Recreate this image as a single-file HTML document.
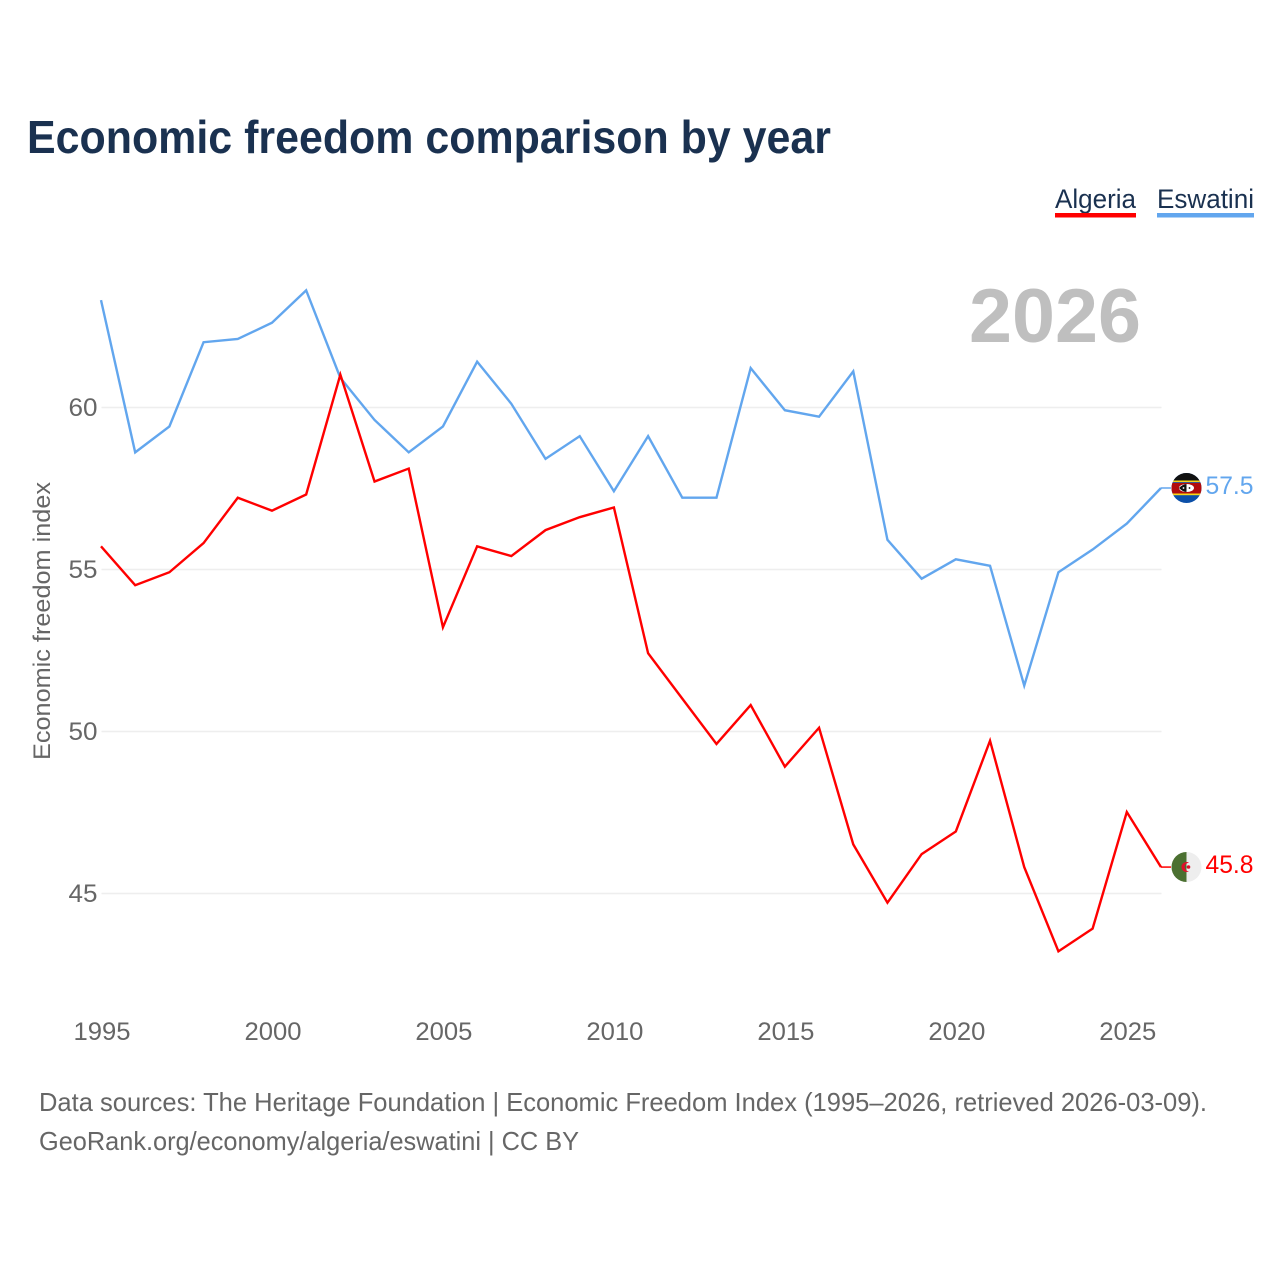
<!DOCTYPE html>
<html lang="en">
<head>
<meta charset="utf-8">
<title>Economic freedom comparison by year</title>
<style>
html,body{margin:0;padding:0;background:#fff;width:1280px;height:1280px;overflow:hidden}
svg{display:block}
text{font-family:"Liberation Sans",sans-serif}
</style>
</head>
<body>
<svg id="chart" xmlns="http://www.w3.org/2000/svg" width="1280" height="1280" viewBox="0 0 1280 1280">
  <rect x="0" y="0" width="1280" height="1280" fill="#ffffff"/>
  <text x="27" y="153" font-size="46" font-weight="700" fill="#1a3150" textLength="804" lengthAdjust="spacingAndGlyphs">Economic freedom comparison by year</text>

  <g>
    <text x="1055" y="208" font-size="27" fill="#1a3150" textLength="81" lengthAdjust="spacingAndGlyphs">Algeria</text>
    <rect x="1055" y="213" width="81" height="4.5" fill="#ff0000"/>
  </g>
  <g>
    <text x="1157" y="208" font-size="27" fill="#1a3150" textLength="97" lengthAdjust="spacingAndGlyphs">Eswatini</text>
    <rect x="1157" y="213" width="97" height="4.5" fill="#62a6ee"/>
  </g>

  <text x="1141" y="342" font-size="76" font-weight="700" fill="#bfbfbf" text-anchor="end" textLength="172" lengthAdjust="spacingAndGlyphs">2026</text>

  <g id="grid"></g>
  <g id="y-ticks"></g>
  <g id="x-ticks"></g>

  <text transform="translate(50,621) rotate(-90)" font-size="24.5" fill="#666666" text-anchor="middle" textLength="278" lengthAdjust="spacingAndGlyphs">Economic freedom index</text>

  <g id="series" transform="translate(-0.5,-0.5)"></g>

  <defs>
    <clipPath id="flag-clip-sz"><circle cx="1186.5" cy="488" r="15"/></clipPath>
    <clipPath id="flag-clip-dz"><circle cx="1186.5" cy="867" r="15"/></clipPath>
  </defs>
  <g clip-path="url(#flag-clip-sz)">
    <rect x="1171" y="473" width="31" height="30" fill="#0b4fa8"/>
    <rect x="1171" y="473" width="31" height="7.5" fill="#111111"/>
    <rect x="1171" y="480.5" width="31" height="1.7" fill="#f7d618"/>
    <rect x="1171" y="482.2" width="31" height="0.8" fill="#2a4fa0"/>
    <rect x="1171" y="483" width="31" height="10.5" fill="#b10c0c"/>
    <rect x="1171" y="493.5" width="31" height="1.7" fill="#f7d618"/>
    <ellipse cx="1186.5" cy="488" rx="7.5" ry="4" fill="#ffffff"/>
    <path d="M1179 488 Q1183 484 1186.5 484 L1186.5 492 Q1183 492 1179 488Z" fill="#111111"/>
    <circle cx="1183.5" cy="488" r="0.9" fill="#ffffff"/>
    <circle cx="1189.5" cy="488" r="0.9" fill="#111111"/>
  </g>
  <g clip-path="url(#flag-clip-dz)">
    <rect x="1171" y="852" width="15.5" height="30" fill="#4b7031"/>
    <rect x="1186.5" y="852" width="15.5" height="30" fill="#eeeeee"/>
    <path d="M1189 862.7 A5 5 0 1 0 1189 871.3 A4 4 0 1 1 1189 862.7Z" fill="#e0102a"/>
    <circle cx="1188.5" cy="867" r="1.8" fill="#e0102a"/>
  </g>
  <text id="label-eswatini" x="1205.5" y="494" font-size="25" fill="#62a6ee" textLength="48" lengthAdjust="spacingAndGlyphs"></text>
  <text id="label-algeria" x="1205.5" y="873" font-size="25" fill="#ff0000" textLength="48" lengthAdjust="spacingAndGlyphs"></text>

  <text x="39" y="1111" font-size="26" fill="#666666" textLength="1168" lengthAdjust="spacingAndGlyphs">Data sources: The Heritage Foundation | Economic Freedom Index (1995–2026, retrieved 2026-03-09).</text>
  <text x="39" y="1150" font-size="26" fill="#666666" textLength="540" lengthAdjust="spacingAndGlyphs">GeoRank.org/economy/algeria/eswatini | CC BY</text>
</svg>
<script>
const years = [1995,1996,1997,1998,1999,2000,2001,2002,2003,2004,2005,2006,2007,2008,2009,2010,2011,2012,2013,2014,2015,2016,2017,2018,2019,2020,2021,2022,2023,2024,2025,2026];
const algeria = [55.7,54.5,54.9,55.8,57.2,56.8,57.3,61.0,57.7,58.1,53.2,55.7,55.4,56.2,56.6,56.9,52.4,51.0,49.6,50.8,48.9,50.1,46.5,44.7,46.2,46.9,49.7,45.8,43.2,43.9,47.5,45.8];
const eswatini = [63.3,58.6,59.4,62.0,62.1,62.6,63.6,60.9,59.6,58.6,59.4,61.4,60.1,58.4,59.1,57.4,59.1,57.2,57.2,61.2,59.9,59.7,61.1,55.9,54.7,55.3,55.1,51.4,54.9,55.6,56.4,57.5];
const yTicks = [45,50,55,60];
const xTicks = [1995,2000,2005,2010,2015,2020,2025];

const SVGNS = 'http://www.w3.org/2000/svg';
function xScale(year){ return 101.5 + (year - 1995) * (1060 / 31); }
function yScale(v){ return 407.5 + (60 - v) * 32.4; }

const grid = document.getElementById('grid');
const yTickGroup = document.getElementById('y-ticks');
const xTickGroup = document.getElementById('x-ticks');
const seriesGroup = document.getElementById('series');

yTicks.forEach(function(t){
  const line = document.createElementNS(SVGNS,'line');
  
  
  line.setAttribute('x1', xScale(1995));
  line.setAttribute('x2', xScale(2026));
  line.setAttribute('y1', yScale(t));
  line.setAttribute('y2', yScale(t));
  line.setAttribute('stroke', '#eeeeee');
  line.setAttribute('stroke-width', '1.5');
  grid.appendChild(line);

  const label = document.createElementNS(SVGNS,'text');
  
  
  label.setAttribute('x', 97.5);
  label.setAttribute('y', yScale(t) + 8.5);
  label.setAttribute('text-anchor', 'end');
  label.setAttribute('font-size', '25');
  label.setAttribute('fill', '#666666');
  label.setAttribute('textLength', '29');
  label.setAttribute('lengthAdjust', 'spacingAndGlyphs');
  label.textContent = t;
  yTickGroup.appendChild(label);
});

xTicks.forEach(function(t){
  const label = document.createElementNS(SVGNS,'text');
  
  
  label.setAttribute('x', xScale(t) + 0.5);
  label.setAttribute('y', 1040);
  label.setAttribute('text-anchor', 'middle');
  label.setAttribute('font-size', '25');
  label.setAttribute('fill', '#666666');
  label.setAttribute('textLength', '57');
  label.setAttribute('lengthAdjust', 'spacingAndGlyphs');
  label.textContent = t;
  xTickGroup.appendChild(label);
});

function pathFor(values){
  return values.map(function(v,i){
    return (i ? 'L' : 'M') + xScale(years[i]).toFixed(2) + ' ' + yScale(v).toFixed(2);
  }).join(' ');
}

const eswatiniLine = document.createElementNS(SVGNS,'path');


eswatiniLine.setAttribute('d', pathFor(eswatini));
eswatiniLine.setAttribute('fill', 'none');
eswatiniLine.setAttribute('stroke', '#62a6ee');
eswatiniLine.setAttribute('stroke-width', '2.4');
seriesGroup.appendChild(eswatiniLine);

const algeriaLine = document.createElementNS(SVGNS,'path');


algeriaLine.setAttribute('d', pathFor(algeria));
algeriaLine.setAttribute('fill', 'none');
algeriaLine.setAttribute('stroke', '#ff0000');
algeriaLine.setAttribute('stroke-width', '2.4');
seriesGroup.appendChild(algeriaLine);

const lastX = xScale(years[years.length - 1]);
const eswatiniEnd = eswatini[eswatini.length - 1];
const algeriaEnd = algeria[algeria.length - 1];

const eswatiniConnector = document.createElementNS(SVGNS,'line');


eswatiniConnector.setAttribute('x1', lastX);
eswatiniConnector.setAttribute('x2', lastX + 10);
eswatiniConnector.setAttribute('y1', yScale(eswatiniEnd));
eswatiniConnector.setAttribute('y2', yScale(eswatiniEnd));
eswatiniConnector.setAttribute('stroke', '#62a6ee');
eswatiniConnector.setAttribute('stroke-width', '1.5');
seriesGroup.appendChild(eswatiniConnector);

const algeriaConnector = document.createElementNS(SVGNS,'line');


algeriaConnector.setAttribute('x1', lastX);
algeriaConnector.setAttribute('x2', lastX + 10);
algeriaConnector.setAttribute('y1', yScale(algeriaEnd));
algeriaConnector.setAttribute('y2', yScale(algeriaEnd));
algeriaConnector.setAttribute('stroke', '#ff0000');
algeriaConnector.setAttribute('stroke-width', '1.5');
seriesGroup.appendChild(algeriaConnector);

document.getElementById('label-eswatini').textContent = eswatiniEnd.toFixed(1);
document.getElementById('label-algeria').textContent = algeriaEnd.toFixed(1);
</script>
</body>
</html>
